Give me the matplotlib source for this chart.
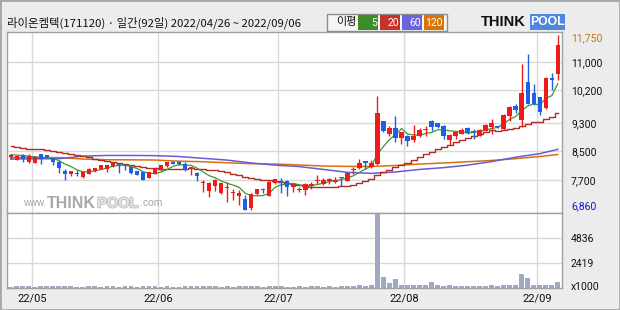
import matplotlib
matplotlib.use('Agg')
import matplotlib.pyplot as plt
import numpy as np
import pandas as pd
from matplotlib.patches import Rectangle
import matplotlib.patheffects as pe

W, H = 620, 310

# ---------------- data ----------------
holidays = ['2022-05-05', '2022-06-01', '2022-06-06', '2022-08-15']
dates = pd.bdate_range('2022-04-26', '2022-09-06')
dates = dates[~dates.isin(pd.to_datetime(holidays))]

opens = [8343, 8268, 8389, 8194, 8185, 8417, 8389, 8315, 8204, 7944,
         7861, 7898, 7787, 7880, 7953, 8018, 8018, 8092, 8157, 8111,
         8065, 7944, 7926, 7768, 7880, 7990, 8092, 8210, 8210, 8150,
         8037, 7890, 7610, 7398, 7545, 7342, 7481, 7350, 7260, 7170,
         6920, 7305, 7450, 7260, 7615, 7666, 7670, 7509, 7426, 7416,
         7527, 7666, 7602, 7666, 7648, 7787, 7676, 7975, 8030, 8222,
         8070, 8165, 9342, 8990, 9166, 8870, 8944, 8824, 8926, 9100,
         9342, 9290, 9218, 8833, 8926, 8990, 9157, 9064, 8944, 9083,
         9194, 9203, 9140, 9500, 9777, 9370, 10426, 10120, 10027, 9700,
         10525, 10657]
highs = [8435, 8400, 8435, 8435, 8380, 8435, 8400, 8330, 8250, 8018,
         7960, 7972, 7940, 8030, 8050, 8120, 8130, 8190, 8176, 8157,
         8083, 7960, 7935, 7935, 8050, 8129, 8210, 8230, 8230, 8210,
         8080, 7926, 7694, 7660, 7740, 7630, 7648, 7444, 7416, 7290,
         7342, 7450, 7480, 7713, 7740, 7759, 7694, 7602, 7509, 7630,
         7648, 7833, 7759, 7768, 7787, 7800, 7926, 8065, 8278, 8230,
         8250, 10055, 9361, 9222, 9500, 9050, 8963, 9240, 9160, 9222,
         9384, 9300, 9230, 8990, 9050, 9148, 9170, 9129, 9129, 9268,
         9407, 9220, 9546, 9777, 9815, 10935, 11222, 10380, 10030, 10570,
         10676, 11750]
lows = [8296, 8250, 8204, 8176, 8176, 8157, 8330, 8129, 7898, 7694,
        7824, 7824, 7768, 7870, 7940, 8010, 7926, 8080, 7898, 7972,
        7880, 7840, 7700, 7750, 7870, 7970, 8080, 8140, 8130, 7960,
        7840, 7676, 7370, 7231, 7390, 7324, 7092, 7138, 7020, 6860,
        6860, 7290, 7330, 7255, 7600, 7342, 7270, 7370, 7370, 7277,
        7463, 7602, 7574, 7602, 7629, 7527, 7666, 7880, 8018, 8018,
        8040, 8111, 9037, 8935, 8760, 8700, 8640, 8759, 8898, 8944,
        9064, 9150, 8852, 8694, 8852, 8980, 9000, 8852, 8930, 9060,
        8990, 9150, 9100, 9361, 9565, 9176, 9815, 9790, 9510, 9685,
        10200, 10505]
closes = [8389, 8361, 8296, 8361, 8343, 8296, 8343, 8204, 8037, 7880,
          7953, 7880, 7926, 8018, 8037, 8111, 8111, 8176, 8129, 8083,
          7898, 7852, 7713, 7926, 8037, 8111, 8204, 8157, 8157, 7980,
          8065, 7820, 7640, 7630, 7694, 7620, 7495, 7370, 7330, 6870,
          7305, 7444, 7420, 7648, 7720, 7630, 7509, 7555, 7444, 7602,
          7602, 7713, 7694, 7722, 7713, 7759, 7907, 8018, 8185, 8180,
          8185, 9565, 9083, 9148, 8870, 9037, 8805, 8944, 9110, 9115,
          9176, 9176, 8940, 8972, 9037, 9101, 9018, 9037, 9101, 9250,
          9300, 9176, 9527, 9731, 9645, 10120, 9815, 9815, 9592, 10555,
          10505, 11472]
volumes = [90, 110, 100, 120, 95, 105, 100, 130, 140, 120,
           100, 90, 95, 110, 100, 95, 100, 105, 90, 100,
           110, 95, 120, 100, 105, 95, 100, 90, 95, 110,
           100, 120, 130, 110, 100, 95, 105, 90, 100, 130,
           110, 100, 95, 100, 120, 100, 90, 95, 100, 95,
           100, 105, 95, 100, 90, 110, 100, 120, 200, 180,
           220, 7100, 1010, 420, 780, 200, 200, 290, 200, 200,
           490, 200, 100, 200, 100, 100, 100, 100, 100, 100,
           200, 100, 290, 200, 200, 1270, 910, 290, 200, 290,
           200, 490]

# moving-average values before enough history is visible
ma5_head = [8410, 8400, 8390, 8370]
ma20_head = [8640, 8630, 8600, 8580, 8570, 8560, 8540, 8520, 8490, 8460,
             8420, 8400, 8370, 8340, 8300, 8270, 8240, 8210, 8180]
ma_long_idx = [0, 4, 8, 12, 16, 20, 24, 28, 32, 36, 40, 44, 48, 52, 56,
               60, 64, 68, 72, 76, 80, 84, 88, 91]
ma60_vals = [8290, 8295, 8300, 8370, 8390, 8390, 8385, 8360, 8310, 8260,
             8180, 8120, 8080, 8000, 7920, 7890, 7930, 8000, 8050, 8120,
             8220, 8340, 8440, 8560]
ma120_vals = [8335, 8335, 8330, 8290, 8270, 8268, 8262, 8230, 8215, 8185,
              8160, 8150, 8125, 8095, 8085, 8083, 8110, 8150, 8180, 8215,
              8250, 8300, 8360, 8416]

price_ticks = [11000, 10200, 9300, 8500, 7700]
price_tick_labels = ['11,000', '10,200', '9,300', '8,500', '7,700']
price_max_label = '11,750'
price_min_label = '6,860'
vol_ticks = [2419, 4836]
vol_tick_labels = ['2419', '4836']
vol_unit = 'x1000'
title = '라이온켐텍(171120) · 일간(92일) 2022/04/26 ~ 2022/09/06'
ma_legend_title = '이평'
ma_periods = ['5', '20', '60', '120']

# ---------------- style ----------------
RED = '#f01a1a'
BLUE = '#1f5fe6'
MA_COLORS = ['#3c9a28', '#b42a28', '#6a5ad8', '#d8720a']
LEGEND_BOX = ['#3c8c28', '#c8302a', '#6a64dc', '#dc7400']
GRID = '#d8d8d8'
FRAME = '#a0a0a0'
BG = '#ececec'

plt.rcParams['font.family'] = ['Roboto', 'DejaVu Sans']


def fx(xp):
    return xp / W


def fy(yp):
    return 1 - yp / H


fig = plt.figure(figsize=(W / 100, H / 100), dpi=100, facecolor=BG)
renderer = fig.canvas.get_renderer()

left, right = 6.7, 562.0
p_top, p_bot, v_bot = 32.0, 212.5, 287.5
axp = fig.add_axes([fx(left), fy(p_bot), (right - left) / W, (p_bot - p_top) / H])
axv = fig.add_axes([fx(left), fy(v_bot), (right - left) / W, (v_bot - p_bot) / H])

n = len(closes)
x = np.arange(n)
o = np.array(opens, float)
c = np.array(closes, float)
hi = np.array(highs, float)
lo = np.array(lows, float)
up = c >= o
colors = np.where(up, RED, BLUE)

month_pos = [i for i in range(1, n) if dates[i].month != dates[i - 1].month]
month_labels = [dates[i].strftime('%y/%m') for i in month_pos]
grid_x = [p - 0.5 for p in month_pos]

for ax in (axp, axv):
    ax.set_facecolor('white')
    ax.set_xlim(-0.67, 91.7)
    for s in ax.spines.values():
        s.set_color(FRAME)
        s.set_linewidth(1)
    for gx in grid_x:
        ax.axvline(gx, color=GRID, lw=1, zorder=0)

# price panel
axp.set_ylim(6800, 11830)
for t in price_ticks:
    axp.axhline(t, color=GRID, lw=1, zorder=0)

s = pd.Series(c)
ma5 = s.rolling(5).mean().to_numpy()
ma5[:len(ma5_head)] = ma5_head
ma20 = s.rolling(20).mean().to_numpy()
ma20[:len(ma20_head)] = ma20_head

axp.plot(ma_long_idx, ma120_vals, color=MA_COLORS[3], lw=1.1, zorder=2)
axp.plot(ma_long_idx, ma60_vals, color=MA_COLORS[2], lw=1.1, zorder=2)
axp.plot(x, ma20, color=MA_COLORS[1], lw=1.0, zorder=2, drawstyle='steps-mid')
axp.plot(x, ma5, color=MA_COLORS[0], lw=0.9, zorder=2)

axp.vlines(x, lo, hi, colors=colors, lw=1, zorder=3)
body_h = np.maximum(np.abs(c - o), 30)
axp.bar(x, body_h, bottom=np.minimum(o, c), width=0.74, color=colors,
        linewidth=0, zorder=4)

axp.set_yticks(price_ticks)
axp.set_yticklabels(price_tick_labels)
axp.yaxis.tick_right()
axp.tick_params(axis='y', length=0, pad=6.5, labelsize=7.5, labelcolor='#111111')
axp.set_xticks([])

# volume panel
axv.set_ylim(0, 7280)
for t in vol_ticks:
    axv.axhline(t, color=GRID, lw=1, zorder=0)
axv.bar(x, volumes, width=0.8, color='#a0a9c2', linewidth=0, zorder=2)
axv.set_yticks(vol_ticks)
axv.set_yticklabels(vol_tick_labels)
axv.yaxis.tick_right()
axv.tick_params(axis='y', length=0, pad=6.5, labelsize=7.5, labelcolor='#111111')
axv.set_xticks(grid_x)
axv.set_xticklabels(month_labels)
axv.tick_params(axis='x', length=0, pad=4.5, labelsize=8, labelcolor='#111111')

# extreme labels and volume unit
fig.text(fx(571), fy(38.3), price_max_label, color='#d07010', fontsize=7.5,
         ha='left', va='center')
fig.text(fx(571), fy(206.7), price_min_label, color='#1414d0', fontsize=7.5,
         ha='left', va='center')
fig.text(fx(571), fy(287), vol_unit, color='#111111', fontsize=7.5,
         ha='left', va='center')

# title
fig.text(fx(7), fy(23), title, fontsize=8.2, color='#111111', ha='left',
         va='center', family=['Noto Sans CJK KR', 'DejaVu Sans'])

# MA legend box
fig.patches.append(Rectangle((fx(327), fy(31)), (447 - 327) / W, 17 / H,
                             transform=fig.transFigure, facecolor='#f6f6f6',
                             edgecolor='#8c8c8c', lw=1))
fig.text(fx(346), fy(22.5), ma_legend_title, fontsize=8, color='#111111',
         ha='center', va='center', family=['Noto Sans CJK KR', 'DejaVu Sans'])
box_x = [358, 380, 402, 424]
for bx, col, lab in zip(box_x, LEGEND_BOX, ma_periods):
    fig.patches.append(Rectangle((fx(bx), fy(29.5)), 20 / W, 14 / H,
                                 transform=fig.transFigure, facecolor=col,
                                 edgecolor='none'))
    fig.text(fx(bx + 19), fy(22.5), lab, fontsize=7.5, color='white',
             ha='right', va='center')


def seq_text(pieces, x0, y0, gap=0.0):
    """Place text pieces one after another, left to right (pixel coords)."""
    xp = x0
    for txt, kw in pieces:
        t = fig.text(fx(xp), fy(y0), txt, ha='left', va='center', **kw)
        bb = t.get_window_extent(renderer)
        xp = bb.x1 + gap
    return xp


# ThinkPool logo
fig.text(fx(481), fy(22), 'THINK', fontsize=10.5, fontweight='heavy',
         color='#111111', ha='left', va='center', family='Liberation Sans')
fig.patches.append(Rectangle((fx(530), fy(30)), 35 / W, 16 / H,
                             transform=fig.transFigure, facecolor='#4f86e0',
                             edgecolor='none'))
fig.text(fx(547.5), fy(22), 'POOL', fontsize=8.8, fontweight='heavy',
         color='white', ha='center', va='center', family='Liberation Sans')

# watermark
seq_text([('www.', dict(fontsize=7, color='#a4a4a4', family='Liberation Sans')),
          ('THINK', dict(fontsize=11.5, fontweight='bold', color='#a8a8a8',
                         family='Liberation Sans')),
          ('POOL', dict(fontsize=10.5, fontweight='bold', color='#e2e2e2',
                        family='Liberation Sans',
                        path_effects=[pe.withStroke(linewidth=1.2,
                                                    foreground='#bdbdbd')])),
          ('.com', dict(fontsize=7.5, color='#a4a4a4', family='Liberation Sans'))],
         23, 203.5, gap=1.0)

# outer border
fig.patches.append(Rectangle((0, 0), 1, 1, transform=fig.transFigure,
                             fill=False, edgecolor='#a6a6a6', lw=2))

fig.savefig('out.png', dpi=100, facecolor=fig.get_facecolor())
